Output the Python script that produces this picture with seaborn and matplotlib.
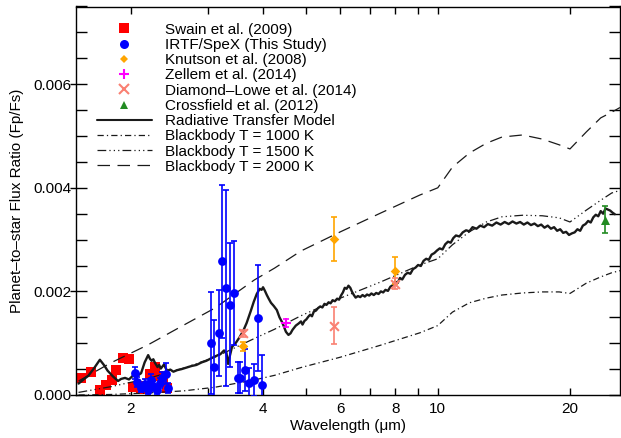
import matplotlib
matplotlib.use("Agg")
import numpy as np
import pandas as pd
import seaborn as sns
import matplotlib.pyplot as plt
from matplotlib.lines import Line2D
from matplotlib.ticker import FixedLocator, FixedFormatter, MultipleLocator, FormatStrFormatter, NullFormatter

# ---------------- observations ----------------
swain_wl = [1.54, 1.62, 1.70, 1.76, 1.81, 1.85, 1.92, 1.98, 2.02, 2.11, 2.16, 2.21, 2.27, 2.31, 2.37, 2.42]
swain_fp = [0.00033, 0.00044, 0.00010, 0.00020, 0.00029, 0.00048, 0.00071, 0.00069,
            0.00015, 0.00012, 0.00017, 0.00041, 0.00054, 0.00037, 0.00029, 0.00014]

irtf_wl = [2.04, 2.07, 2.11, 2.15, 2.19, 2.22, 2.25, 2.29, 2.33, 2.36, 2.40, 2.43,
           3.04, 3.10, 3.18, 3.23, 3.30, 3.37, 3.44, 3.50, 3.54, 3.64, 3.72, 3.82, 3.90, 3.98]
irtf_fp = [0.00042, 0.00025, 0.00014, 0.00021, 0.00010, 0.00029, 0.00017, 0.00010, 0.00023, 0.00033, 0.00041, 0.00014,
           0.00100, 0.00055, 0.00120, 0.00258, 0.00207, 0.00174, 0.00197, 0.00033, 0.00033, 0.00048, 0.00023, 0.00029, 0.00149, 0.00019]
irtf_err = [0.00012, 0.00010, 0.00008, 0.00010, 0.00008, 0.00012, 0.00010, 0.00008, 0.00010, 0.00012, 0.00020, 0.00010,
            0.00099, 0.00090, 0.00083, 0.00148, 0.00189, 0.00120, 0.00100, 0.00030, 0.00030, 0.00040, 0.00030, 0.00030, 0.00102, 0.00058]

knutson_wl = [3.6, 5.8, 8.0]
knutson_fp = [0.00094, 0.00301, 0.00240]
knutson_err = [0.00009, 0.00043, 0.00026]

zellem_wl = [4.5]
zellem_fp = [0.00139]
zellem_err = [0.00007]

dlowe_wl = [3.6, 5.8, 8.0]
dlowe_fp = [0.00119, 0.00134, 0.00215]
dlowe_err = [0.00007, 0.00035, 0.00010]

cross_wl = [24.0]
cross_fp = [0.00338]
cross_err = [0.00026]

# ---------------- models ----------------
rt_wl = [1.52, 1.56, 1.60, 1.65, 1.70, 1.74, 1.77, 1.82, 1.87, 1.90, 1.94, 1.98, 2.02, 2.06, 2.11,
         2.15, 2.19, 2.21, 2.23, 2.25, 2.27, 2.30, 2.32, 2.34, 2.38, 2.40, 2.42, 2.46, 2.50, 2.55,
         2.61, 2.68, 2.75, 2.82, 2.90, 2.97, 3.05, 3.12, 3.20, 3.26, 3.30, 3.33, 3.36, 3.40, 3.47,
         3.54, 3.61, 3.67, 3.75, 3.81, 3.87, 3.93, 3.97, 4.00, 4.04, 4.08, 4.12, 4.17, 4.23, 4.30,
         4.36, 4.43, 4.51, 4.57, 4.62, 4.67, 4.75, 4.82,
         4.88, 4.92, 4.97, 5.02, 5.07, 5.12, 5.17, 5.22, 5.28, 5.34, 5.40, 5.46, 5.52, 5.58, 5.64,
         5.70, 5.76, 5.83, 5.90, 5.96, 6.02, 6.08, 6.14, 6.20, 6.26, 6.32, 6.38, 6.44, 6.50, 6.58,
         6.66, 6.74, 6.82, 6.90, 6.98, 7.06, 7.15, 7.24, 7.33, 7.42, 7.51, 7.60, 7.70, 7.80, 7.90,
         8.00, 8.10, 8.20, 8.30, 8.42, 8.54, 8.66, 8.78, 8.90, 9.02, 9.15, 9.28, 9.41, 9.54, 9.68,
         9.82, 9.96, 10.1, 10.25, 10.4, 10.55, 10.7, 10.85, 11.0, 11.2, 11.4, 11.6, 11.8, 12.0, 12.25,
         12.5, 12.75, 13.0, 13.3, 13.6, 13.9, 14.2, 14.5, 14.8, 15.1, 15.4, 15.7, 16.0, 16.3, 16.6,
         16.9, 17.2, 17.5, 17.8, 18.1, 18.4, 18.7, 19.0, 19.3, 19.6, 19.9, 20.2, 20.5, 20.8, 21.1,
         21.4, 21.7, 22.0, 22.3, 22.6, 22.9, 23.2, 23.5, 23.8, 24.1, 24.4, 24.7, 25.0, 25.3]
rt_fp = [0.00022, 0.00030, 0.00037, 0.00052, 0.00068, 0.00057, 0.00047, 0.00036, 0.00027, 0.00031, 0.00033, 0.00030, 0.00037, 0.00036, 0.00042,
         0.00063, 0.00077, 0.00070, 0.00066, 0.00069, 0.00062, 0.00054, 0.00058, 0.00051, 0.00059, 0.00052, 0.00047, 0.00049, 0.00045, 0.00048,
         0.00050, 0.00053, 0.00056, 0.00058, 0.00063, 0.00066, 0.00071, 0.00075, 0.00079, 0.00086, 0.00082, 0.00060, 0.00075, 0.00093, 0.00101,
         0.00112, 0.00125, 0.00139, 0.00162, 0.00180, 0.00195, 0.00205, 0.00203, 0.00208, 0.00201, 0.00193, 0.00186, 0.00178, 0.00172, 0.00164,
         0.00150, 0.00139, 0.00122, 0.00116, 0.00119, 0.00126, 0.00134, 0.00138,
         0.00142, 0.00136, 0.00143, 0.00146, 0.00151, 0.00155, 0.00152, 0.00161, 0.00163, 0.00168, 0.00171, 0.00169, 0.00176, 0.00174, 0.00179,
         0.00177, 0.00183, 0.00181, 0.00186, 0.00184, 0.00192, 0.00198, 0.00207, 0.00205, 0.00211, 0.00207, 0.00199, 0.00193, 0.00188, 0.00191,
         0.00189, 0.00193, 0.00190, 0.00194, 0.00192, 0.00196, 0.00193, 0.00197, 0.00195, 0.00200, 0.00198, 0.00203, 0.00201, 0.00209, 0.00212,
         0.00219, 0.00216, 0.00226, 0.00223, 0.00232, 0.00236, 0.00234, 0.00243, 0.00246, 0.00251, 0.00249, 0.00259, 0.00263, 0.00261, 0.00271,
         0.00274, 0.00279, 0.00283, 0.00281, 0.00291, 0.00296, 0.00294, 0.00303, 0.00308, 0.00306, 0.00314, 0.00318, 0.00316, 0.00324, 0.00321,
         0.00327, 0.00324, 0.00330, 0.00327, 0.00333, 0.00329, 0.00334, 0.00330, 0.00335, 0.00331, 0.00334, 0.00329, 0.00333, 0.00328, 0.00331,
         0.00326, 0.00329, 0.00323, 0.00327, 0.00321, 0.00324, 0.00317, 0.00320, 0.00313, 0.00315, 0.00309, 0.00312, 0.00314, 0.00320, 0.00317,
         0.00327, 0.00330, 0.00336, 0.00333, 0.00343, 0.00348, 0.00345, 0.00355, 0.00350, 0.00360, 0.00358, 0.00356, 0.00352, 0.00349]

bb_wl = [1.52, 1.80, 2.19, 2.64, 3.11, 3.82, 4.25, 4.88, 6.0, 7.4, 9.1, 10.0,
         10.8, 11.8, 12.9, 14.0, 15.6, 17.3, 18.9, 20.0, 21.8, 23.5, 24.9, 26.0]
bb1000 = [0.00000, 0.00001, 0.00004, 0.00008, 0.00015, 0.00029, 0.00038, 0.00053, 0.00073, 0.00096, 0.00120, 0.00134,
          0.00160, 0.00178, 0.00187, 0.00193, 0.00197, 0.00199, 0.00199, 0.00196, 0.00216, 0.00228, 0.00236, 0.00240]
bb1500 = [0.00005, 0.00016, 0.00032, 0.00052, 0.00073, 0.00109, 0.00127, 0.00153, 0.00187, 0.00218, 0.00251, 0.00263,
          0.00290, 0.00315, 0.00334, 0.00344, 0.00347, 0.00346, 0.00342, 0.00334, 0.00357, 0.00376, 0.00390, 0.00395]
bb2000 = [0.00027, 0.00062, 0.00097, 0.00135, 0.00168, 0.00222, 0.00245, 0.00278, 0.00315, 0.00351, 0.00386, 0.00400,
          0.00440, 0.00467, 0.00486, 0.00498, 0.00502, 0.00494, 0.00483, 0.00475, 0.00508, 0.00535, 0.00546, 0.00555]

x_major = [2, 4, 6, 8, 10, 20]
x_minor = [3, 5, 7, 9]
y_major = [0.000, 0.002, 0.004, 0.006]

labels = ["Swain et al. (2009)", "IRTF/SpeX (This Study)", "Knutson et al. (2008)",
          "Zellem et al. (2014)", "Diamond\u2013Lowe et al. (2014)", "Crossfield et al. (2012)",
          "Radiative Transfer Model", "Blackbody T = 1000 K", "Blackbody T = 1500 K",
          "Blackbody T = 2000 K"]

# ---------------- style ----------------
sns.set_theme(style="ticks")
plt.rcParams['font.family'] = ['Liberation Sans', 'DejaVu Sans']
plt.rcParams['font.size'] = 11
plt.rcParams['axes.linewidth'] = 1.0
plt.rcParams['text.color'] = 'black'
plt.rcParams['axes.labelcolor'] = 'black'
plt.rcParams['xtick.color'] = 'black'
plt.rcParams['ytick.color'] = 'black'

W, H = 621, 438
fig = plt.figure(figsize=(W / 100, H / 100), dpi=100)
ax = fig.add_axes([76 / W, 1 - 395 / H, 544 / W, 388.5 / H])

red = '#ff0000'
blue = '#0000ff'
orange = '#ffa500'
magenta = '#ff00ff'
salmon = '#fa8072'
green = '#228b22'

# Swain squares
sns.scatterplot(x=swain_wl, y=swain_fp, marker='s', color=red, s=62, linewidth=0, ax=ax, zorder=2)

# model curves
dash_1000 = (0, (5, 2.5, 1, 2.5))
dash_1500 = (0, (7, 2.5, 1, 2.5, 1, 2.5, 1, 2.5))
dash_2000 = (0, (10, 6))
sns.lineplot(x=bb_wl, y=bb1000, color='k', lw=0.9, linestyle=dash_1000, sort=False, estimator=None, ax=ax, zorder=3)
sns.lineplot(x=bb_wl, y=bb1500, color='k', lw=0.9, linestyle=dash_1500, sort=False, estimator=None, ax=ax, zorder=3)
sns.lineplot(x=bb_wl, y=bb2000, color='k', lw=0.9, linestyle=dash_2000, sort=False, estimator=None, ax=ax, zorder=3)
sns.lineplot(x=rt_wl, y=rt_fp, color='k', lw=1.7, sort=False, estimator=None, ax=ax, zorder=3)

# IRTF/SpeX points
ax.errorbar(irtf_wl, irtf_fp, yerr=irtf_err, fmt='none', ecolor=blue, elinewidth=1.2, capsize=2.5, capthick=1.2, zorder=4)
sns.scatterplot(x=irtf_wl, y=irtf_fp, marker='o', color=blue, s=40, linewidth=0, ax=ax, zorder=5)

# Spitzer photometry
for wl, fp, err, col, mk, sz, lw in [
    (knutson_wl, knutson_fp, knutson_err, orange, 'D', 24, 0),
    (zellem_wl, zellem_fp, zellem_err, magenta, '+', 45, 1.5),
    (dlowe_wl, dlowe_fp, dlowe_err, salmon, 'x', 40, 1.5),
    (cross_wl, cross_fp, cross_err, green, '^', 42, 0),
]:
    ax.errorbar(wl, fp, yerr=err, fmt='none', ecolor=col, elinewidth=1.2, capsize=2.5, capthick=1.2, zorder=6)
    sns.scatterplot(x=wl, y=fp, marker=mk, color=col, s=sz, linewidth=lw, ax=ax, zorder=7)

# ---------------- axes ----------------
ax.set_xscale('log')
ax.set_xlim(1.5, 26)
ax.set_ylim(0, 0.0075)
ax.xaxis.set_major_locator(FixedLocator(x_major))
ax.xaxis.set_major_formatter(FixedFormatter([str(v) for v in x_major]))
ax.xaxis.set_minor_locator(FixedLocator(x_minor))
ax.xaxis.set_minor_formatter(NullFormatter())
ax.yaxis.set_major_locator(FixedLocator(y_major))
ax.yaxis.set_major_formatter(FormatStrFormatter('%.3f'))
ax.yaxis.set_minor_locator(MultipleLocator(0.0005))

ax.tick_params(axis='x', which='both', direction='in', length=5, width=1, top=True, bottom=True, pad=5, labelsize=11)
ax.tick_params(axis='y', which='both', direction='in', length=8, width=1, left=True, right=True, pad=3, labelsize=11)
for s in ax.spines.values():
    s.set_visible(True)
    s.set_color('black')
    s.set_linewidth(1.0)

# short outward stubs at the labelled y ticks
sec = ax.secondary_yaxis('left')
sec.set_yticks(y_major)
sec.tick_params(direction='out', length=4, width=1, labelleft=False, colors='black')
sec.spines['left'].set_visible(False)
sec.yaxis.set_minor_locator(FixedLocator([]))

ax.set_xlabel("Wavelength (\u03bcm)", fontsize=11, labelpad=2)
ax.set_ylabel("Planet\u2013to\u2013star Flux Ratio (Fp/Fs)", fontsize=11, labelpad=7)

# ---------------- legend ----------------
handles = [
    Line2D([], [], marker='s', color=red, linestyle='none', markersize=7.5, markeredgewidth=0),
    Line2D([], [], marker='o', color=blue, linestyle='none', markersize=6.5, markeredgewidth=0),
    Line2D([], [], marker='D', color=orange, linestyle='none', markersize=4.5, markeredgewidth=0),
    Line2D([], [], marker='+', color=magenta, linestyle='none', markersize=7, markeredgewidth=1.5),
    Line2D([], [], marker='x', color=salmon, linestyle='none', markersize=6.5, markeredgewidth=1.5),
    Line2D([], [], marker='^', color=green, linestyle='none', markersize=6, markeredgewidth=0),
    Line2D([], [], color='k', lw=1.5),
    Line2D([], [], color='k', lw=0.9, linestyle=dash_1000),
    Line2D([], [], color='k', lw=0.9, linestyle=dash_1500),
    Line2D([], [], color='k', lw=0.9, linestyle=dash_2000),
]
ax.legend(handles, labels, loc='upper left', bbox_to_anchor=(0.0386, 0.958), frameon=False,
          borderpad=0, borderaxespad=0, handlelength=3.6, handletextpad=0.85,
          labelspacing=0.08, fontsize=11)

fig.savefig("out.png", dpi=100)
